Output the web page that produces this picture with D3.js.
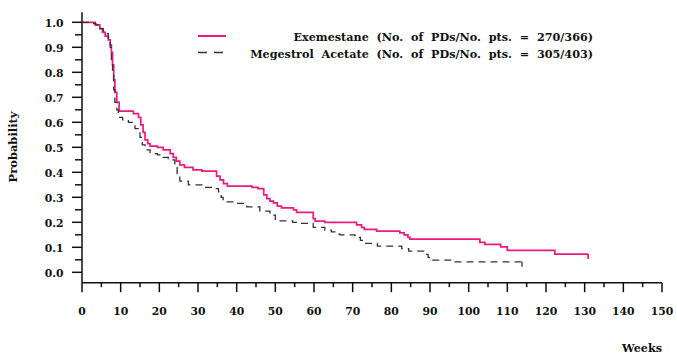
<!DOCTYPE html>
<html><head><meta charset="utf-8">
<script src="https://cdn.jsdelivr.net/npm/d3@7"></script>
<style>body{margin:0;background:#fff}svg{display:block}text{font-family:"DejaVu Serif",serif;fill:#111}</style>
</head><body><svg id="c" width="677" height="363"></svg>
<script>
const xTicks = [0,10,20,30,40,50,60,70,80,90,100,110,120,130,140,150];
const yTicks = [0,0.1,0.2,0.3,0.4,0.5,0.6,0.7,0.8,0.9,1.0];
const seriesNames = ["Exemestane  (No.  of  PDs/No.  pts.  =  270/366)", "Megestrol  Acetate  (No.  of  PDs/No.  pts.  =  305/403)"];
const exemestane = [[0,1.0],[3.4,0.99],[4.6,0.975],[5.3,0.96],[6.0,0.945],[6.8,0.93],[7.3,0.91],[7.6,0.88],[7.9,0.83],[8.2,0.77],[8.5,0.72],[9.0,0.68],[9.6,0.645],[13.3,0.635],[14.6,0.62],[15.2,0.59],[15.8,0.56],[16.3,0.53],[17.0,0.515],[17.6,0.505],[19.5,0.5],[21.0,0.49],[22.8,0.475],[23.6,0.46],[24.4,0.445],[25.3,0.43],[26.5,0.42],[28.7,0.41],[31.0,0.405],[34.8,0.385],[35.7,0.37],[36.6,0.355],[37.6,0.345],[44.0,0.34],[45.5,0.335],[47.0,0.31],[47.8,0.295],[48.6,0.285],[49.5,0.278],[50.5,0.265],[51.6,0.258],[54.7,0.25],[55.5,0.24],[59.8,0.215],[60.3,0.205],[62.8,0.2],[71.0,0.19],[72.3,0.18],[73.0,0.172],[76.2,0.165],[82.2,0.158],[83.3,0.15],[84.3,0.14],[84.8,0.133],[102.9,0.12],[104.2,0.112],[108.3,0.102],[110.0,0.088],[122.3,0.073],[130.9,0.073]];
const megestrol = [[0,1.0],[3.0,0.995],[3.6,0.99],[4.6,0.975],[5.5,0.965],[6.2,0.955],[6.8,0.93],[7.3,0.9],[7.6,0.85],[7.9,0.79],[8.2,0.73],[8.5,0.68],[9.0,0.65],[9.4,0.62],[10.5,0.61],[12.0,0.6],[13.0,0.59],[13.7,0.575],[14.5,0.56],[15.0,0.54],[15.6,0.51],[16.3,0.49],[17.6,0.475],[19.5,0.47],[21.0,0.46],[22.3,0.455],[23.5,0.45],[24.0,0.42],[24.6,0.39],[25.3,0.365],[27.5,0.35],[31.0,0.34],[34.0,0.335],[35.3,0.322],[36.0,0.3],[36.5,0.282],[39.0,0.276],[42.6,0.262],[46.0,0.245],[48.6,0.229],[50.0,0.206],[54.5,0.2],[56.4,0.196],[59.8,0.18],[62.8,0.169],[64.5,0.162],[66.0,0.153],[66.7,0.15],[70.6,0.14],[72.0,0.128],[72.8,0.116],[76.4,0.105],[82.7,0.095],[84.5,0.085],[88.7,0.072],[89.5,0.06],[90.5,0.049],[96.0,0.042],[113.8,0.042]];

const svg = d3.select("#c");
const x = d3.scaleLinear().domain([0,150]).range([82,662]);
const y = d3.scaleLinear().domain([0,1]).range([272.3,22.3]);
const axisY = 282.7;

// Y axis
const ya = svg.append("g").attr("transform","translate(82,0)");
ya.append("line").attr("x1",0).attr("x2",0).attr("y1",12.3).attr("y2",axisY).attr("stroke","#111").attr("stroke-width",1.5);
const yMinor = d3.range(0.05,1.0,0.1);
ya.selectAll(".ymn").data(yMinor).join("line").attr("x1",-7).attr("x2",0).attr("y1",d=>y(d)).attr("y2",d=>y(d)).attr("stroke","#111").attr("stroke-width",1.5);
ya.selectAll(".ymj").data(yTicks).join("line").attr("x1",-10).attr("x2",0).attr("y1",d=>y(d)).attr("y2",d=>y(d)).attr("stroke","#111").attr("stroke-width",1.5);
ya.selectAll(".ylb").data(yTicks).join("text").attr("x",-18.5).attr("y",d=>y(d)+4.2).attr("text-anchor","end").attr("font-size",10.8).attr("font-weight","bold").text(d=>d.toFixed(1));

// X axis
const xa = svg.append("g").attr("transform",`translate(0,${axisY})`);
xa.append("line").attr("x1",82).attr("x2",662).attr("y1",0).attr("y2",0).attr("stroke","#111").attr("stroke-width",1.5);
const xMinor = d3.range(5,150,10);
xa.selectAll(".xmn").data(xMinor).join("line").attr("x1",d=>x(d)).attr("x2",d=>x(d)).attr("y1",0).attr("y2",4.5).attr("stroke","#111").attr("stroke-width",1.5);
xa.selectAll(".xmj").data(xTicks).join("line").attr("x1",d=>x(d)).attr("x2",d=>x(d)).attr("y1",0).attr("y2",9.5).attr("stroke","#111").attr("stroke-width",1.5);
xa.selectAll(".xlb").data(xTicks).join("text").attr("x",d=>x(d)).attr("y",32.3).attr("text-anchor","middle").attr("font-size",10.8).attr("font-weight","bold").text(d=>d);

// axis titles
svg.append("text").attr("x",662).attr("y",351.5).attr("text-anchor","end").attr("font-size",11.2).attr("font-weight","bold").text("Weeks");
svg.append("text").attr("transform","translate(16.5,147) rotate(-90)").attr("text-anchor","middle").attr("font-size",11.5).attr("font-weight","bold").text("Probability");

// curves
const line = d3.line().x(d=>x(d[0])).y(d=>y(d[1])).curve(d3.curveStepAfter);
const styles = [
  {data:exemestane, color:"#ec1a7d", width:1.7, dash:null},
  {data:megestrol, color:"#333", width:1.3, dash:"7,5"}
];
styles.forEach(s=>{
  svg.append("path").datum(s.data).attr("d",line).attr("fill","none").attr("stroke",s.color).attr("stroke-width",s.width).attr("stroke-dasharray",s.dash);
  const last = s.data[s.data.length-1];
  svg.append("line").attr("x1",x(last[0])).attr("x2",x(last[0])).attr("y1",y(last[1])).attr("y2",y(last[1])+5).attr("stroke",s.color).attr("stroke-width",s.width);
});

// legend
const lg = svg.append("g");
styles.forEach((s,i)=>{
  const ly = 36 + i*16.5;
  lg.append("line").attr("x1",198).attr("x2",226).attr("y1",ly).attr("y2",ly).attr("stroke",s.color).attr("stroke-width",s.width+0.3).attr("stroke-dasharray",s.dash?"9,7":null);
  lg.append("text").attr("x",593).attr("y",ly+5).attr("text-anchor","end").attr("font-size",11.2).attr("font-weight","bold").attr("xml:space","preserve").style("white-space","pre").text(seriesNames[i]);
});
</script></body></html>
